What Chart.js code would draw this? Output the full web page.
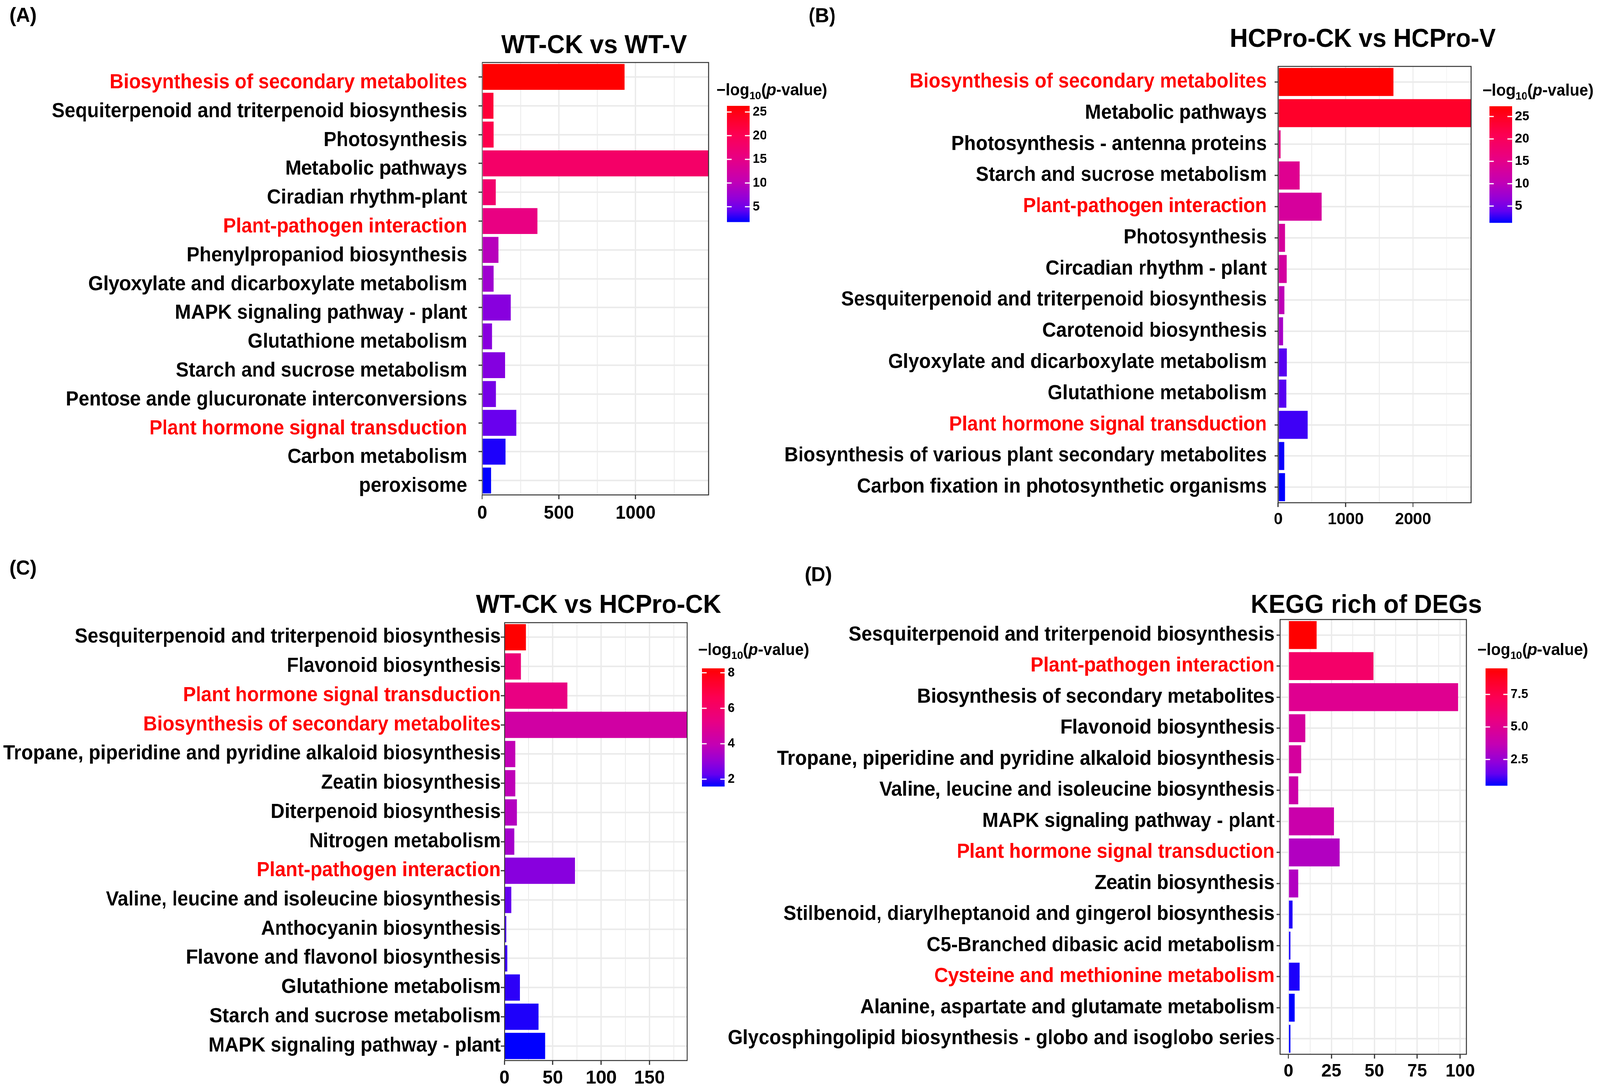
<!DOCTYPE html>
<html>
<head>
<meta charset="utf-8">
<script src="https://cdn.jsdelivr.net/npm/chart.js@4.4.1/dist/chart.umd.min.js"></script>
<style>
  html, body { margin: 0; padding: 0; background: #fff; overflow: hidden; }
  #frame { position: relative; overflow: hidden; background: #fff; }
  #page { position: absolute; left: 0; top: 0; width: 4237px; height: 2793px; transform-origin: 0 0; }
  canvas { position: absolute; left: 0; top: 0; }
</style>
</head>
<body>
<div id="frame">
<div id="page">
  <canvas id="chartA" width="4237" height="2793"></canvas>
  <canvas id="chartB" width="4237" height="2793"></canvas>
  <canvas id="chartC" width="4237" height="2793"></canvas>
  <canvas id="chartD" width="4237" height="2793"></canvas>
</div>
</div>
<script>
// ---- DATA ----
// (A) WT-CK vs WT-V
const catsA = [
  "Biosynthesis of secondary metabolites",
  "Sequiterpenoid and triterpenoid biosynthesis",
  "Photosynthesis",
  "Metabolic pathways",
  "Ciradian rhythm-plant",
  "Plant-pathogen interaction",
  "Phenylpropaniod biosynthesis",
  "Glyoxylate and dicarboxylate metabolism",
  "MAPK signaling pathway - plant",
  "Glutathione metabolism",
  "Starch and sucrose metabolism",
  "Pentose ande glucuronate interconversions",
  "Plant hormone signal transduction",
  "Carbon metabolism",
  "peroxisome"
];
const countA = [928, 72, 73, 1475, 89, 359, 106, 73, 186, 63, 150, 90, 221, 153, 57];
const logpA = [26.3, 22.4, 20.9, 18.2, 17.7, 15.5, 9.6, 7.7, 6.2, 6.2, 6.0, 5.2, 4.5, 2.5, 1.8];
const redA = ["Biosynthesis of secondary metabolites", "Plant-pathogen interaction", "Plant hormone signal transduction"];
const xTicksA = [0, 500, 1000];
const xMaxA = 1475;
const legendRangeA = [1.8, 26.3];
const legendTicksA = [5, 10, 15, 20, 25];

// (B) HCPro-CK vs HCPro-V
const catsB = [
  "Biosynthesis of secondary metabolites",
  "Metabolic pathways",
  "Photosynthesis - antenna proteins",
  "Starch and sucrose metabolism",
  "Plant-pathogen interaction",
  "Photosynthesis",
  "Circadian rhythm - plant",
  "Sesquiterpenoid and triterpenoid biosynthesis",
  "Carotenoid biosynthesis",
  "Glyoxylate and dicarboxylate metabolism",
  "Glutathione metabolism",
  "Plant hormone signal transduction",
  "Biosynthesis of various plant secondary metabolites",
  "Carbon fixation in photosynthetic organisms"
];
const countB = [1710, 2863, 35, 320, 641, 99, 123, 90, 71, 125, 118, 435, 88, 99];
const logpB = [27.3, 24.2, 15.6, 14.3, 13.0, 13.0, 12.7, 10.1, 8.3, 3.6, 3.6, 2.9, 1.6, 1.3];
const redB = ["Biosynthesis of secondary metabolites", "Plant-pathogen interaction", "Plant hormone signal transduction"];
const xTicksB = [0, 1000, 2000];
const xMaxB = 2863;
const legendRangeB = [1.3, 27.3];
const legendTicksB = [5, 10, 15, 20, 25];

// (C) WT-CK vs HCPro-CK
const catsC = [
  "Sesquiterpenoid and triterpenoid biosynthesis",
  "Flavonoid biosynthesis",
  "Plant hormone signal transduction",
  "Biosynthesis of secondary metabolites",
  "Tropane, piperidine and pyridine alkaloid biosynthesis",
  "Zeatin biosynthesis",
  "Diterpenoid biosynthesis",
  "Nitrogen metabolism",
  "Plant-pathogen interaction",
  "Valine, leucine and isoleucine biosynthesis",
  "Anthocyanin biosynthesis",
  "Flavone and flavonol biosynthesis",
  "Glutathione metabolism",
  "Starch and sucrose metabolism",
  "MAPK signaling pathway - plant"
];
const countC = [22, 17, 65, 189, 11, 11, 13, 10, 73, 7, 2, 3, 16, 35, 42];
const logpC = [8.25, 5.6, 5.3, 4.4, 3.9, 3.85, 3.6, 3.3, 2.8, 2.3, 2.1, 2.0, 1.9, 1.8, 1.6];
const redC = ["Plant hormone signal transduction", "Biosynthesis of secondary metabolites", "Plant-pathogen interaction"];
const xTicksC = [0, 50, 100, 150];
const xMaxC = 189;
const legendRangeC = [1.6, 8.25];
const legendTicksC = [2, 4, 6, 8];

// (D) KEGG rich of DEGs
const catsD = [
  "Sesquiterpenoid and triterpenoid biosynthesis",
  "Plant-pathogen interaction",
  "Biosynthesis of secondary metabolites",
  "Flavonoid biosynthesis",
  "Tropane, piperidine and pyridine alkaloid biosynthesis",
  "Valine, leucine and isoleucine biosynthesis",
  "MAPK signaling pathway - plant",
  "Plant hormone signal transduction",
  "Zeatin biosynthesis",
  "Stilbenoid, diarylheptanoid and gingerol biosynthesis",
  "C5-Branched dibasic acid metabolism",
  "Cysteine and methionine metabolism",
  "Alanine, aspartate and glutamate metabolism",
  "Glycosphingolipid biosynthesis - globo and isoglobo series"
];
const countD = [16.4, 49.5, 98.7, 9.8, 7.5, 5.6, 26.6, 29.8, 5.6, 2.4, 1.2, 6.6, 3.6, 1.2];
const logpD = [9.5, 6.5, 5.0, 4.55, 4.5, 4.1, 4.0, 3.2, 3.2, 0.8, 0.7, 0.75, 0.5, 0.5];
const redD = ["Plant-pathogen interaction", "Plant hormone signal transduction", "Cysteine and methionine metabolism"];
const xTicksD = [0, 25, 50, 75, 100];
const xMinD = -4.84;
const xMaxD = 103.6;
const legendRangeD = [0.5, 9.5];
const legendTicksD = [2.5, 5.0, 7.5];

// ---- FIT THE 4237x2793 LAYOUT INTO THE ACTUAL VIEWPORT ----
const PAGE_W = 4237, PAGE_H = 2793;
const vw = window.innerWidth || PAGE_W, vh = window.innerHeight || PAGE_H;
const frame = document.getElementById('frame');
frame.style.width = vw + 'px';
frame.style.height = vh + 'px';
document.getElementById('page').style.transform = 'scale(' + (vw / PAGE_W) + ',' + (vh / PAGE_H) + ')';

// ---- COLOUR GRADIENT (blue -> purple -> red) ----
const gradStops = [
  [0.00, [0, 0, 255]],
  [0.10, [100, 0, 240]],
  [0.20, [145, 0, 218]],
  [0.35, [195, 0, 180]],
  [0.55, [232, 0, 132]],
  [0.75, [252, 0, 84]],
  [0.90, [255, 0, 36]],
  [1.00, [255, 0, 0]]
];
function gradColor(t) {
  t = Math.min(1, Math.max(0, t));
  let i = 1;
  while (i < gradStops.length - 1 && gradStops[i][0] < t) i++;
  const a = gradStops[i - 1], b = gradStops[i];
  const u = (t - a[0]) / (b[0] - a[0]);
  const c = [0, 1, 2].map(k => Math.round(a[1][k] + (b[1][k] - a[1][k]) * u));
  return 'rgb(' + c[0] + ',' + c[1] + ',' + c[2] + ')';
}

// ---- DRAWING ----
const FONT = '"Liberation Sans", Arial, Helvetica, sans-serif';
const X_AXIS_H = 90;

function drawLegend(ctx, lg) {
  const lo = lg.range[0], hi = lg.range[1];
  // title: -log10(p-value)
  let x = lg.titleX;
  const y = lg.titleY;
  ctx.fillStyle = '#000';
  ctx.textAlign = 'left';
  ctx.textBaseline = 'alphabetic';
  const parts = [
    ['bold 42px ' + FONT, '\u2212log', 0],
    ['bold 28px ' + FONT, '10', 10],
    ['bold 42px ' + FONT, '(', 0],
    ['italic bold 42px ' + FONT, 'p', 0],
    ['bold 42px ' + FONT, '-value)', 0]
  ];
  parts.forEach(p => {
    ctx.font = p[0];
    ctx.fillText(p[1], x, y + p[2]);
    x += ctx.measureText(p[1]).width;
  });
  // colour bar
  for (let i = 0; i < lg.h; i++) {
    ctx.fillStyle = gradColor(1 - (i + 0.5) / lg.h);
    ctx.fillRect(lg.x, lg.y + i, lg.w, 1.5);
  }
  ctx.font = 'bold 34px ' + FONT;
  ctx.textBaseline = 'middle';
  lg.ticks.forEach(v => {
    const ty = lg.y + lg.h * (1 - (v - lo) / (hi - lo));
    ctx.strokeStyle = '#fff';
    ctx.lineWidth = 3;
    ctx.beginPath();
    ctx.moveTo(lg.x, ty); ctx.lineTo(lg.x + lg.w * 0.2, ty);
    ctx.moveTo(lg.x + lg.w * 0.8, ty); ctx.lineTo(lg.x + lg.w, ty);
    ctx.stroke();
    ctx.fillStyle = '#000';
    ctx.fillText(v.toFixed(lg.decimals), lg.x + lg.w + 8, ty);
  });
}

function panelPlugin(cfg) {
  return {
    id: 'panel' + cfg.letter,
    afterDatasetsDraw(chart) {
      const ctx = chart.ctx, a = chart.chartArea;
      ctx.save();
      ctx.strokeStyle = '#333333';
      ctx.lineWidth = 2.5;
      ctx.strokeRect(a.left, a.top, a.right - a.left, a.bottom - a.top);
      ctx.restore();
    },
    afterDraw(chart) {
      const ctx = chart.ctx;
      ctx.save();
      ctx.fillStyle = '#000';
      ctx.textBaseline = 'alphabetic';
      ctx.textAlign = 'left';
      ctx.font = 'bold 52px ' + FONT;
      ctx.fillText('(' + cfg.letter + ')', cfg.letterPos[0], cfg.letterPos[1]);
      ctx.textAlign = 'center';
      ctx.font = 'bold 66px ' + FONT;
      ctx.fillText(cfg.title, cfg.titlePos[0], cfg.titlePos[1]);
      drawLegend(ctx, cfg.legend);
      ctx.restore();
    }
  };
}

function makePanel(id, cfg) {
  const p = cfg.plot;
  const majors = cfg.xTicks;
  const half = (majors[1] - majors[0]) / 2;
  const allTicks = [];
  for (let v = majors[0] - half; v <= cfg.xMax + 1e-9; v += half) {
    if (v >= cfg.xMin - 1e-9) allTicks.push(v);
  }
  const isMajor = v => majors.some(m => Math.abs(m - v) < 1e-9);
  const lo = cfg.legend.range[0], hi = cfg.legend.range[1];
  const colors = cfg.logp.map(v => gradColor((v - lo) / (hi - lo)));

  new Chart(document.getElementById(id), {
    type: 'bar',
    data: {
      labels: cfg.cats,
      datasets: [{
        data: cfg.counts,
        backgroundColor: colors,
        borderWidth: 0,
        barPercentage: 0.9,
        categoryPercentage: 1.0
      }]
    },
    options: {
      indexAxis: 'y',
      responsive: false,
      devicePixelRatio: 1,
      animation: false,
      layout: {
        padding: { left: 0, top: p.top, right: PAGE_W - p.right, bottom: PAGE_H - p.bottom - X_AXIS_H }
      },
      plugins: { legend: { display: false }, tooltip: { enabled: false }, title: { display: false } },
      scales: {
        x: {
          type: 'linear',
          position: 'bottom',
          min: cfg.xMin,
          max: cfg.xMax,
          afterBuildTicks: s => { s.ticks = allTicks.map(v => ({ value: v })); },
          afterFit: s => { s.height = X_AXIS_H; },
          border: { display: false },
          grid: {
            color: '#EBEBEB',
            lineWidth: c => (c.tick && isMajor(c.tick.value)) ? 3.5 : 2,
            drawTicks: true,
            tickLength: 11,
            tickWidth: 3,
            tickColor: c => (c.tick && isMajor(c.tick.value)) ? '#333333' : 'rgba(0,0,0,0)'
          },
          ticks: {
            autoSkip: false,
            maxRotation: 0,
            padding: cfg.xPad,
            color: '#000',
            font: { family: FONT, size: cfg.xFont, weight: 'bold' },
            callback: v => isMajor(v) ? String(v) : ''
          }
        },
        y: {
          type: 'category',
          position: 'left',
          offset: true,
          afterFit: s => { s.width = p.left; },
          border: { display: false },
          grid: {
            offset: false,
            color: '#EBEBEB',
            lineWidth: 4,
            tickLength: 10,
            tickWidth: 3,
            tickColor: '#333333'
          },
          ticks: {
            autoSkip: false,
            padding: cfg.yPad,
            labelOffset: cfg.yOffset,
            color: c => cfg.red.includes(cfg.cats[c.index]) ? '#FF0000' : '#000000',
            font: { family: FONT, size: 51, weight: 'bold' }
          }
        }
      }
    },
    plugins: [panelPlugin(cfg)]
  });
}

makePanel('chartA', {
  letter: 'A', title: 'WT-CK vs WT-V',
  cats: catsA, counts: countA, logp: logpA, red: redA,
  xTicks: xTicksA, xMin: 0, xMax: xMaxA, xFont: 48, xPad: 8, yPad: 30, yOffset: 15,
  plot: { left: 1277, right: 1876, top: 160, bottom: 1267 },
  letterPos: [25, 56], titlePos: [1573, 136],
  legend: { titleX: 1897, titleY: 244, x: 1925, y: 271, w: 60, h: 297, range: legendRangeA, ticks: legendTicksA, decimals: 0 }
});

makePanel('chartB', {
  letter: 'B', title: 'HCPro-CK vs HCPro-V',
  cats: catsB, counts: countB, logp: logpB, red: redB,
  xTicks: xTicksB, xMin: 0, xMax: xMaxB, xFont: 43, xPad: 6, yPad: 20, yOffset: 0,
  plot: { left: 3385, right: 3896, top: 170, bottom: 1287 },
  letterPos: [2141, 57], titlePos: [3609, 120],
  legend: { titleX: 3926, titleY: 245, x: 3944, y: 272, w: 60, h: 298, range: legendRangeB, ticks: legendTicksB, decimals: 0 }
});

makePanel('chartC', {
  letter: 'C', title: 'WT-CK vs HCPro-CK',
  cats: catsC, counts: countC, logp: logpC, red: redC,
  xTicks: xTicksC, xMin: 0, xMax: xMaxC, xFont: 49, xPad: 5, yPad: 0, yOffset: 0,
  plot: { left: 1336, right: 1820, top: 1594, bottom: 2715 },
  letterPos: [25, 1471], titlePos: [1585, 1569],
  legend: { titleX: 1849, titleY: 1677, x: 1859, y: 1711, w: 60, h: 302, range: legendRangeC, ticks: legendTicksC, decimals: 0 }
});

makePanel('chartD', {
  letter: 'D', title: 'KEGG rich of DEGs',
  cats: catsD, counts: countD, logp: logpD, red: redD,
  xTicks: xTicksD, xMin: xMinD, xMax: xMaxD, xFont: 47, xPad: 5, yPad: 5, yOffset: 0,
  plot: { left: 3390, right: 3883, top: 1586, bottom: 2699 },
  letterPos: [2131, 1488], titlePos: [3618, 1569],
  legend: { titleX: 3912, titleY: 1677, x: 3934, y: 1711, w: 58, h: 300, range: legendRangeD, ticks: legendTicksD, decimals: 1 }
});
</script>
</body>
</html>
